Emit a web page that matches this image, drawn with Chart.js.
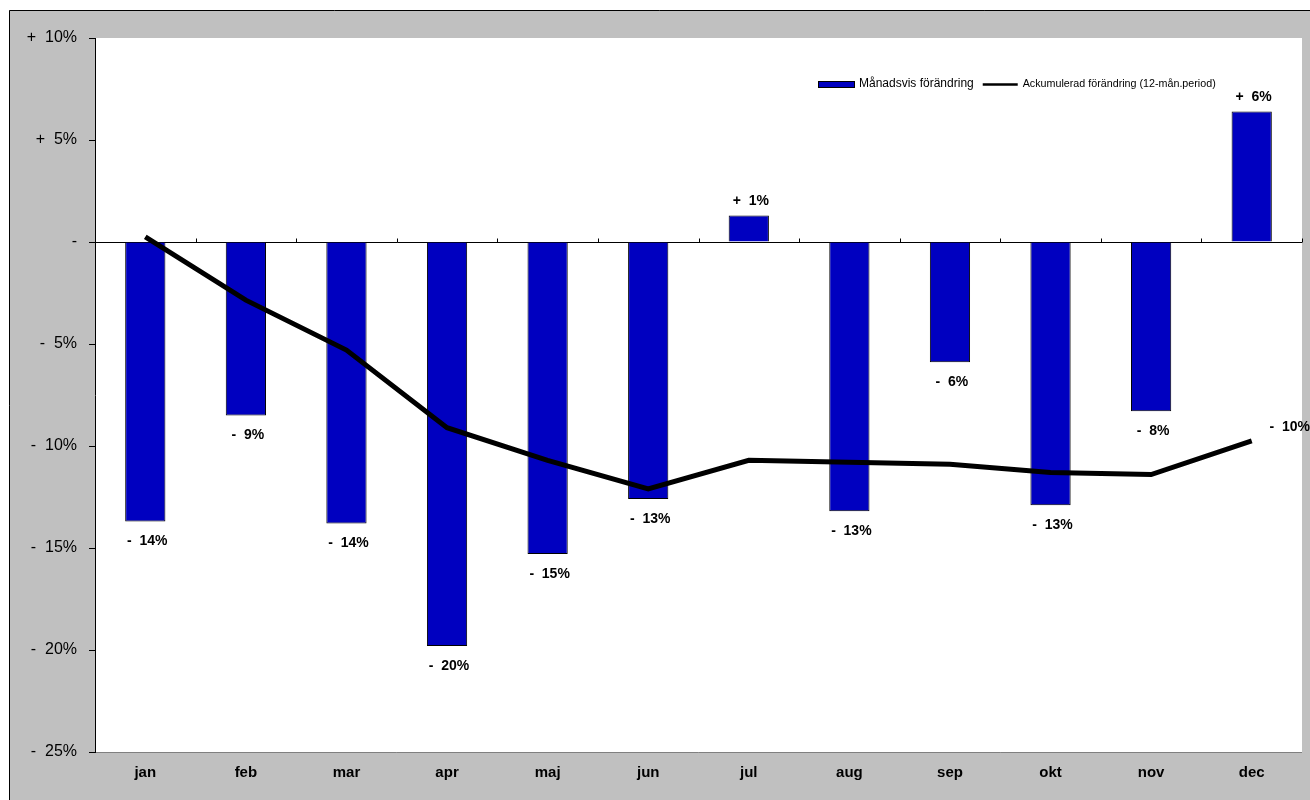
<!DOCTYPE html>
<html><head><meta charset="utf-8">
<script src="https://cdn.jsdelivr.net/npm/chart.js@4/dist/chart.umd.min.js"></script>
<style>html,body{margin:0;padding:0;background:#fff}#wrap{width:1310px;height:800px}</style>
</head><body><div id="wrap"><canvas id="c" width="1310" height="800"></canvas></div>
<script>
const months = ["jan","feb","mar","apr","maj","jun","jul","aug","sep","okt","nov","dec"];
const monthly = [-13.7,-8.5,-13.8,-19.8,-15.3,-12.6,1.3,-13.2,-5.9,-12.9,-8.3,6.4];
const cumulative = [0.25,-2.85,-5.3,-9.1,-10.7,-12.1,-10.7,-10.8,-10.9,-11.3,-11.4,-9.75];
const yTicks = [10,5,0,-5,-10,-15,-20,-25];
const seriesNames = ["Månadsvis förändring","Ackumulerad förändring (12-mån.period)"];

const FONT = "'Liberation Sans', Arial, sans-serif";
function fmt(v){ const r=Math.round(Math.abs(v)+1e-9)*Math.sign(v); if(r===0) return "-"; return (r>0?"+  ":"-  ")+Math.abs(r)+"%"; }

const bgPlugin = {
  id:'bg',
  beforeDraw(chart){
    const ctx=chart.ctx, a=chart.chartArea;
    ctx.save();
    ctx.fillStyle='#fff'; ctx.fillRect(0,0,chart.width,chart.height);
    ctx.fillStyle='#c0c0c0'; ctx.fillRect(9,10,chart.width-9,chart.height-10);
    ctx.strokeStyle='#000'; ctx.lineWidth=1;
    ctx.beginPath(); ctx.moveTo(9.5,chart.height); ctx.lineTo(9.5,10.5); ctx.lineTo(chart.width,10.5); ctx.stroke();
    ctx.fillStyle='#fff'; ctx.fillRect(a.left,a.top,a.right-a.left,a.bottom-a.top);
    ctx.strokeStyle='#808080'; ctx.beginPath(); ctx.moveTo(a.left,a.bottom+0.5); ctx.lineTo(a.right,a.bottom+0.5); ctx.stroke();
    ctx.restore();
  },
  afterDraw(chart){
    const ctx=chart.ctx, a=chart.chartArea, x=chart.scales.x, y=chart.scales.y;
    ctx.save();
    const y0=Math.round(y.getPixelForValue(0))+0.5;
    ctx.strokeStyle='#000'; ctx.lineWidth=1;
    const step=(a.right-a.left)/months.length;
    for(let i=1;i<=months.length;i++){
      const xx=Math.round(a.left+step*i)+0.5;
      ctx.beginPath(); ctx.moveTo(xx,y0-4); ctx.lineTo(xx,y0); ctx.stroke();
    }
    // legend
    const lx=818, ly=84;
    ctx.fillStyle='#0000c0'; ctx.fillRect(lx,ly-3,36,7);
    ctx.strokeStyle='#000'; ctx.strokeRect(lx+0.5,ly-3+0.5,36,6);
    ctx.fillStyle='#000'; ctx.font='12px '+FONT; ctx.textBaseline='middle'; ctx.textAlign='left';
    ctx.fillText(chart.data.datasets[0].label, lx+41, ly);
    const w0=ctx.measureText(chart.data.datasets[0].label).width;
    const l2=lx+41+w0+9;
    ctx.lineWidth=2.5; ctx.beginPath(); ctx.moveTo(l2,ly+0.5); ctx.lineTo(l2+35,ly+0.5); ctx.stroke();
    ctx.font='11px '+FONT;
    ctx.fillText(chart.data.datasets[1].label, l2+40, ly, 193);
    // data labels
    ctx.font='bold 14px '+FONT; ctx.textAlign='center';
    const bm=chart.getDatasetMeta(0);
    bm.data.forEach((el,i)=>{
      const v=monthly[i];
      const ty = v<0 ? el.y+20 : el.y-14;
      ctx.fillText(fmt(v), el.x+2, ty);
    });
    const lm=chart.getDatasetMeta(1);
    const last=lm.data[lm.data.length-1];
    ctx.fillText(fmt(cumulative[cumulative.length-1]), last.x+38, last.y-14);
    ctx.restore();
  }
};

new Chart(document.getElementById('c'),{
  data:{
    labels:months,
    datasets:[
      {type:'bar',label:seriesNames[0],data:monthly,backgroundColor:'#0000c0',borderColor:'#000',borderWidth:1,barPercentage:0.4,categoryPercentage:1,order:2},
      {type:'line',label:seriesNames[1],data:cumulative,borderColor:'#000',borderWidth:5,pointRadius:0,tension:0,fill:false,order:1}
    ]
  },
  options:{
    responsive:false,animation:false,devicePixelRatio:1,
    layout:{padding:{left:0,top:38,right:8,bottom:0}},
    plugins:{legend:{display:false},tooltip:{enabled:false}},
    scales:{
      x:{
        grid:{display:false,drawTicks:false},border:{display:false},
        ticks:{color:'#000',font:{family:FONT,size:15,weight:'bold'},padding:12},
        afterFit(s){s.height=48;}
      },
      y:{
        min:-25,max:10,
        afterBuildTicks(s){s.ticks=yTicks.map(v=>({value:v}));},
        grid:{color:c=>c.tick&&c.tick.value===0?'#000':'transparent',tickColor:'#000',tickLength:6,drawOnChartArea:true},
        border:{display:true,color:'#000',width:1},
        ticks:{color:'#000',font:{family:FONT,size:16},padding:12,callback:v=>fmt(v)},
        afterFit(s){s.width=95;}
      }
    }
  },
  plugins:[bgPlugin]
});
</script></body></html>
